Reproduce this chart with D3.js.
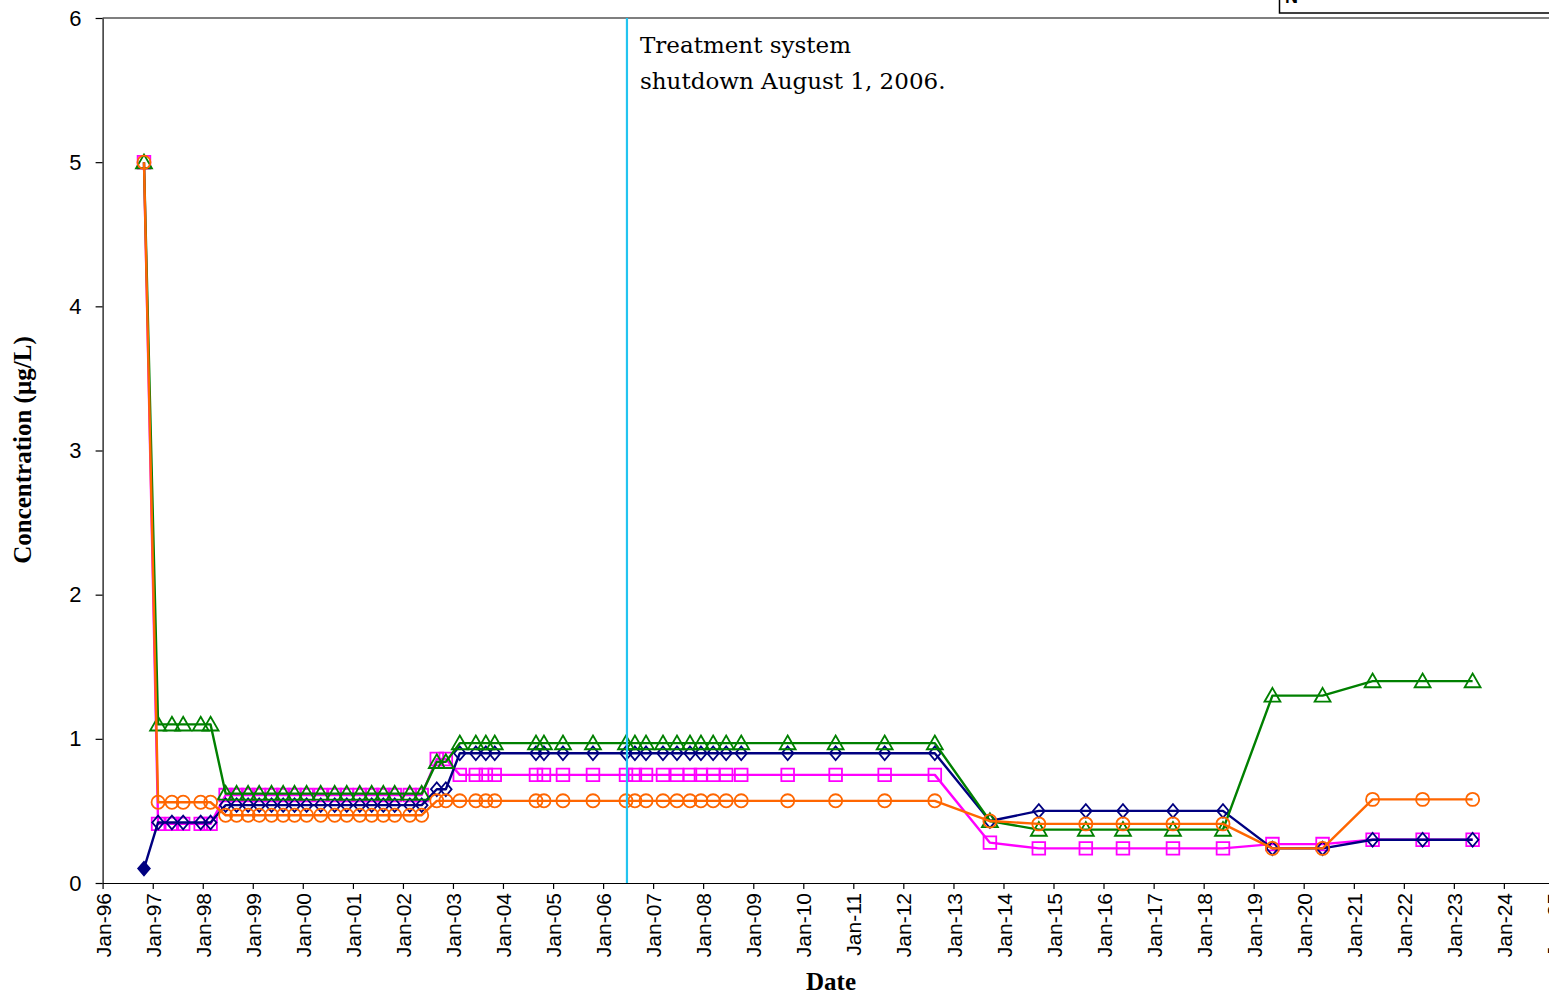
<!DOCTYPE html>
<html>
<head>
<meta charset="utf-8">
<script src="https://cdn.jsdelivr.net/npm/d3@7"></script>
<style>
  html, body { margin: 0; padding: 0; background: #fff; overflow: hidden; }
  svg { display: block; }
</style>
</head>
<body>
<svg id="chart" width="1549" height="995"></svg>
<script>
// ---------------- DATA ----------------
const sampleDates = [
  "1996-10-29", "1997-02-09", "1997-05-21", "1997-08-11", "1997-12-17", "1998-02-27",
  "1998-06-17", "1998-09-05", "1998-11-28", "1999-02-17", "1999-05-18", "1999-08-11",
  "1999-11-02", "2000-01-29", "2000-05-11", "2000-08-21", "2000-11-17", "2001-02-20",
  "2001-05-18", "2001-08-11", "2001-11-02", "2002-02-20", "2002-05-18",
  "2002-09-05", "2002-11-10",
  "2003-02-20", "2003-06-17", "2003-08-29", "2003-11-02",
  "2004-08-29", "2004-10-26", "2005-03-14", "2005-10-19",
  "2006-06-17", "2006-08-21", "2006-11-10", "2007-03-14", "2007-06-24", "2007-09-27",
  "2007-12-16", "2008-03-14", "2008-06-17", "2008-10-05",
  "2009-09-09", "2010-08-25", "2011-08-18", "2012-08-18",
  "2013-09-24", "2014-09-16", "2015-08-25", "2016-05-22", "2017-05-22", "2018-05-22",
  "2019-05-18", "2020-05-18", "2021-05-18", "2022-05-18", "2023-05-18"
];

const navyValues = [
  0.10, 0.42, 0.42, 0.42, 0.42, 0.42,
  0.54, 0.54, 0.54, 0.54, 0.54, 0.54, 0.54, 0.54, 0.54, 0.54, 0.54, 0.54, 0.54, 0.54, 0.54, 0.54, 0.54,
  0.65, 0.65,
  0.90, 0.90, 0.90, 0.90,
  0.90, 0.90, 0.90, 0.90,
  0.90, 0.90, 0.90, 0.90, 0.90, 0.90, 0.90, 0.90, 0.90, 0.90,
  0.90, 0.90, 0.90, 0.90,
  0.43, 0.50, 0.50, 0.50, 0.50, 0.50,
  0.24, 0.24, 0.30, 0.30, 0.30
];
const greenValues = [
  5.00, 1.10, 1.10, 1.10, 1.10, 1.10,
  0.62, 0.62, 0.62, 0.62, 0.62, 0.62, 0.62, 0.62, 0.62, 0.62, 0.62, 0.62, 0.62, 0.62, 0.62, 0.62, 0.62,
  0.84, 0.84,
  0.97, 0.97, 0.97, 0.97,
  0.97, 0.97, 0.97, 0.97,
  0.97, 0.97, 0.97, 0.97, 0.97, 0.97, 0.97, 0.97, 0.97, 0.97,
  0.97, 0.97, 0.97, 0.97,
  0.43, 0.37, 0.37, 0.37, 0.37, 0.37,
  1.30, 1.30, 1.40, 1.40, 1.40
];
const magentaValues = [
  5.00, 0.41, 0.41, 0.41, 0.41, 0.41,
  0.61, 0.61, 0.61, 0.61, 0.61, 0.61, 0.61, 0.61, 0.61, 0.61, 0.61, 0.61, 0.61, 0.61, 0.61, 0.61, 0.61,
  0.86, 0.86,
  0.75, 0.75, 0.75, 0.75,
  0.75, 0.75, 0.75, 0.75,
  0.75, 0.75, 0.75, 0.75, 0.75, 0.75, 0.75, 0.75, 0.75, 0.75,
  0.75, 0.75, 0.75, 0.75,
  0.28, 0.24, 0.24, 0.24, 0.24, 0.24,
  0.27, 0.27, 0.30, 0.30, 0.30
];
const orangeValues = [
  5.00, 0.56, 0.56, 0.56, 0.56, 0.56,
  0.47, 0.47, 0.47, 0.47, 0.47, 0.47, 0.47, 0.47, 0.47, 0.47, 0.47, 0.47, 0.47, 0.47, 0.47, 0.47, 0.47,
  0.57, 0.57,
  0.57, 0.57, 0.57, 0.57,
  0.57, 0.57, 0.57, 0.57,
  0.57, 0.57, 0.57, 0.57, 0.57, 0.57, 0.57, 0.57, 0.57, 0.57,
  0.57, 0.57, 0.57, 0.57,
  0.43, 0.41, 0.41, 0.41, 0.41, 0.41,
  0.24, 0.24, 0.58, 0.58, 0.58
];

const yTickValues = [0, 1, 2, 3, 4, 5, 6];
const shutdownDate = "2006-06-24";
const annotationLines = ["Treatment system", "shutdown August 1, 2006."];
const xTitle = "Date";
const yTitle = "Concentration (\u00b5g/L)";

// ---------------- CHART ----------------
const svg = d3.select("#chart");
const parse = d3.timeParse("%Y-%m-%d");

const x = d3.scaleTime()
  .domain([new Date(1996, 0, 1), new Date(2025, 0, 1)])
  .range([102.6, 1554]);
const y = d3.scaleLinear().domain([0, 6]).range([883, 18]);

// plot frame top line
svg.append("line")
  .attr("x1", x.range()[0]).attr("x2", 1600)
  .attr("y1", y(6)).attr("y2", y(6))
  .attr("stroke", "#000").attr("stroke-width", 1.2);

// Y axis
const yAxis = svg.append("g")
  .attr("transform", `translate(${x.range()[0]},0)`)
  .call(d3.axisLeft(y).tickValues(yTickValues).tickFormat(d3.format("d"))
        .tickSize(7).tickSizeOuter(0).tickPadding(14));
yAxis.select(".domain").attr("stroke-width", 1.2);
yAxis.selectAll(".tick line").attr("stroke-width", 1.2);
yAxis.selectAll("text")
  .attr("font-family", "Liberation Sans, Arial, sans-serif")
  .attr("font-size", 22).attr("fill", "#000");

// X axis
const xTicks = d3.range(1996, 2026).map(yr => new Date(yr, 0, 1));
const xAxis = svg.append("g")
  .attr("transform", `translate(0,${y(0)})`)
  .call(d3.axisBottom(x).tickValues(xTicks).tickFormat(d3.timeFormat("Jan-%y"))
        .tickSize(6).tickSizeOuter(0));
xAxis.select(".domain").attr("stroke-width", 1.2);
xAxis.selectAll(".tick line").attr("stroke-width", 1.2);
xAxis.selectAll("text")
  .attr("font-family", "Liberation Sans, Arial, sans-serif")
  .attr("font-size", 21).attr("fill", "#000")
  .attr("text-anchor", "end")
  .attr("transform", "rotate(-90)")
  .attr("x", -10).attr("y", 0).attr("dy", "0.36em");

// axis titles
svg.append("text")
  .attr("x", 831).attr("y", 990)
  .attr("text-anchor", "middle")
  .attr("font-family", "Liberation Serif, Times New Roman, serif")
  .attr("font-weight", "bold").attr("font-size", 25)
  .text(xTitle);
svg.append("text")
  .attr("transform", `translate(31,${450}) rotate(-90)`)
  .attr("text-anchor", "middle")
  .attr("font-family", "Liberation Serif, Times New Roman, serif")
  .attr("font-weight", "bold").attr("font-size", 25)
  .text(yTitle);

// series
const seriesList = [
  { name: "magenta", color: "#FF00FF", values: magentaValues, shape: "square" },
  { name: "navy", color: "#000080", values: navyValues, shape: "diamond" },
  { name: "green", color: "#008000", values: greenValues, shape: "triangle" },
  { name: "orange", color: "#FF6600", values: orangeValues, shape: "circle" }
];

const line = d3.line().x(d => x(d.date)).y(d => y(d.value));

const symbolFor = {
  square: d3.symbol().type(d3.symbolSquare).size(160),
  diamond: d3.symbol().type(d3.symbolSquare).size(80),
  triangle: d3.symbol().type(d3.symbolTriangle).size(110),
  circle: d3.symbol().type(d3.symbolCircle).size(135)
};

seriesList.forEach(s => {
  const pts = sampleDates.map((d, i) => ({ date: parse(d), value: s.values[i] }));
  const g = svg.append("g");
  g.append("path")
    .datum(pts)
    .attr("fill", "none")
    .attr("stroke", s.color)
    .attr("stroke-width", 2.4)
    .attr("stroke-linejoin", "round")
    .attr("d", line);
  g.selectAll("path.mk")
    .data(pts)
    .join("path")
    .attr("class", "mk")
    .attr("transform", d => {
      const px = x(d.date), py = y(d.value);
      if (s.shape === "diamond") return `translate(${px},${py}) scale(0.92,1.08) rotate(45)`;
      if (s.shape === "triangle") return `translate(${px},${py + 1.5})`;
      return `translate(${px},${py})`;
    })
    .attr("d", symbolFor[s.shape]())
    .attr("fill", (d, i) => (s.name === "navy" && i === 0) ? s.color : "none")
    .attr("stroke", s.color)
    .attr("stroke-width", 1.8);
});

// shutdown line
svg.append("line")
  .attr("x1", x(parse(shutdownDate))).attr("x2", x(parse(shutdownDate)))
  .attr("y1", y(6)).attr("y2", y(0))
  .attr("stroke", "#22C4F0").attr("stroke-width", 2.2);

const ann = svg.append("text")
  .attr("font-family", "DejaVu Serif, Palatino, serif")
  .attr("font-size", 23).attr("fill", "#000");
annotationLines.forEach((t, i) => {
  ann.append("tspan").attr("x", 640).attr("y", 53 + i * 36).text(t);
});

// clipped legend box at top right
svg.append("rect")
  .attr("x", 1279.5).attr("y", -100)
  .attr("width", 400).attr("height", 113)
  .attr("fill", "#fff").attr("stroke", "#000").attr("stroke-width", 1.5);
svg.append("text")
  .attr("x", 1285).attr("y", 3)
  .attr("font-family", "Liberation Sans, Arial, sans-serif")
  .attr("font-weight", "bold").attr("font-size", 18)
  .text("N");
</script>
</body>
</html>
